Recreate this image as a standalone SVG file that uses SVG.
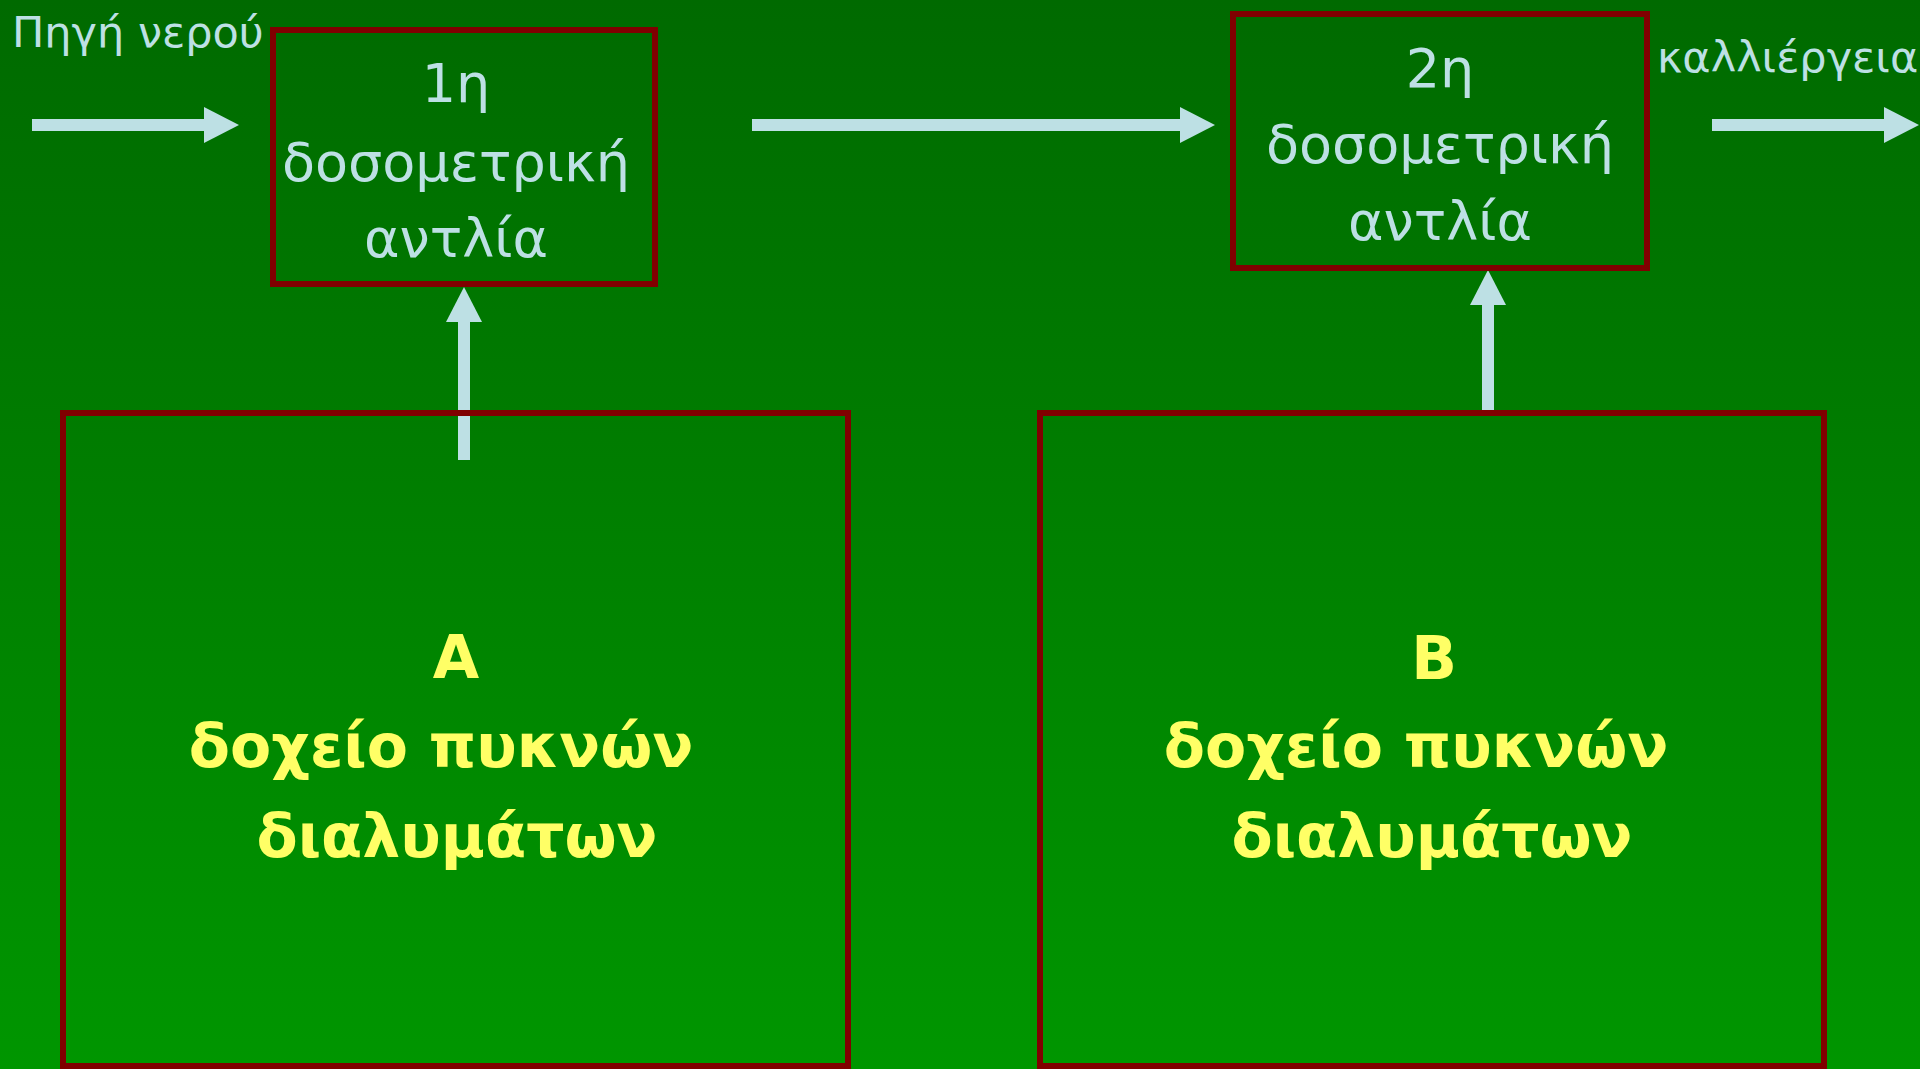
<svg xmlns="http://www.w3.org/2000/svg" width="1920" height="1069" viewBox="0 0 1920 1069">
<defs>
<linearGradient id="bg" x1="0" y1="0" x2="0" y2="1">
<stop offset="0" stop-color="#006A00"/>
<stop offset="1" stop-color="#009600"/>
</linearGradient>
<marker id="ah" markerUnits="userSpaceOnUse" viewBox="0 0 35 36" markerWidth="35" markerHeight="36" refX="0" refY="18" orient="auto">
<path d="M0,0 L35,18 L0,36 Z" fill="#BDE0E4"/>
</marker>
<style>
.box{fill:none;stroke:#800000;stroke-width:6}
.conn{stroke:#BDE0E4;stroke-width:12;fill:none;marker-end:url(#ah)}
.pt{font-family:"DejaVu Sans","Noto Sans",sans-serif;font-size:54px;fill:#BDE0E4;text-anchor:middle}
.lbl{font-family:"DejaVu Sans","Noto Sans",sans-serif;font-size:43px;fill:#BDE0E4}
.tk{font-family:"DejaVu Sans","Noto Sans",sans-serif;font-size:60px;font-weight:bold;fill:#FFFF66;text-anchor:middle}
</style>
</defs>
<rect x="0" y="0" width="1920" height="1069" fill="url(#bg)"/>
<g id="connectors">
<line class="conn" x1="32" y1="125" x2="204" y2="125"/>
<line class="conn" x1="752" y1="125" x2="1180" y2="125"/>
<line class="conn" x1="1712" y1="125" x2="1884" y2="125"/>
<line class="conn" x1="464" y1="460" x2="464" y2="322"/>
<line class="conn" x1="1488" y1="410" x2="1488" y2="305"/>
</g>
<g id="label-source"><text class="lbl" x="12" y="47">Πηγή νερού</text></g>
<g id="label-crop"><text class="lbl" x="1657" y="72" font-size="46">καλλιέργεια</text></g>
<g id="pump1">
<rect class="box" x="273" y="30" width="382" height="254"/>
<text class="pt" x="456" y="102">1η</text>
<text class="pt" x="456" y="181">δοσομετρική</text>
<text class="pt" x="456" y="257">αντλία</text>
</g>
<g id="pump2">
<rect class="box" x="1233" y="14" width="414" height="254"/>
<text class="pt" x="1440" y="87">2η</text>
<text class="pt" x="1440" y="163">δοσομετρική</text>
<text class="pt" x="1440" y="240">αντλία</text>
</g>
<g id="tankA">
<rect class="box" x="63" y="413" width="785" height="653"/>
<text class="tk" x="456" y="678">Α</text>
<text class="tk" x="441" y="767">δοχείο πυκνών</text>
<text class="tk" x="457" y="857">διαλυμάτων</text>
</g>
<g id="tankB">
<rect class="box" x="1040" y="413" width="784" height="653"/>
<text class="tk" x="1434" y="679">Β</text>
<text class="tk" x="1416" y="767">δοχείο πυκνών</text>
<text class="tk" x="1432" y="857">διαλυμάτων</text>
</g>
</svg>
